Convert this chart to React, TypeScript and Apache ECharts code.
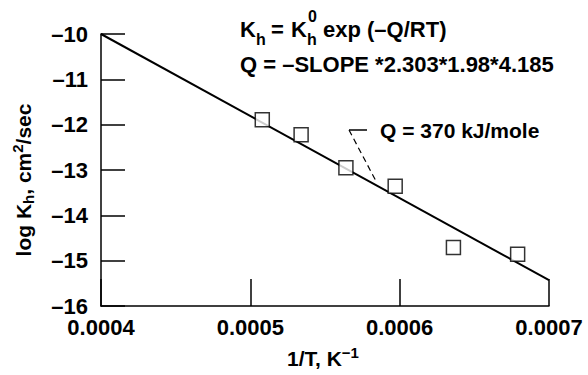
import React, { useEffect, useRef } from "react";
import * as echarts from "echarts";

// Data
const invT = [0.000508, 0.000534, 0.000564, 0.000597, 0.000636, 0.000679];
const logKh = [-11.89, -12.22, -12.95, -13.36, -14.71, -14.86];
const fitX = [0.0004, 0.0007];
const fitY = [-10.0, -15.43];
const xTicks = [0.0004, 0.0005, 0.0006, 0.0007];
const yTicks = [-16, -15, -14, -13, -12, -11, -10];

const FONT = "'Liberation Sans', Arial, Helvetica, sans-serif";

export default function App() {
  const ref = useRef<HTMLDivElement>(null);
  useEffect(() => {
    if (!ref.current) return;
    const chart = echarts.init(ref.current, null, { renderer: "svg" });
    const txt = (x: number, y: number, text: string, size: number, extra: any = {}) => ({
      type: "text",
      x,
      y,
      style: {
        text,
        fontFamily: FONT,
        fontWeight: "bold",
        fontSize: size,
        fill: "#000",
        textVerticalAlign: "bottom",
        ...extra,
      },
    });
    chart.setOption({
      animation: false,
      backgroundColor: "#fff",
      grid: { left: 101, right: 39, top: 34, bottom: 69 },
      xAxis: {
        type: "value",
        min: xTicks[0],
        max: xTicks[xTicks.length - 1],
        interval: 0.0001,
        axisLine: { show: true, lineStyle: { color: "#000", width: 1.5 } },
        axisTick: { show: true, inside: true, length: 27, lineStyle: { color: "#000", width: 1.5 } },
        splitLine: { show: false },
        axisLabel: {
          color: "#000",
          fontFamily: FONT,
          fontWeight: "bold",
          fontSize: 22,
          margin: 10,
          formatter: (v: number) => v.toFixed(4),
        },
      },
      yAxis: {
        type: "value",
        min: yTicks[0],
        max: yTicks[yTicks.length - 1],
        interval: 1,
        axisLine: { show: true, lineStyle: { color: "#000", width: 1.5 } },
        axisTick: { show: true, inside: true, length: 24, lineStyle: { color: "#000", width: 1.5 } },
        splitLine: { show: false },
        axisLabel: {
          color: "#000",
          fontFamily: FONT,
          fontWeight: "bold",
          fontSize: 22,
          margin: 13,
          formatter: (v: number) => String(Math.round(v)).replace("-", "\u2013"),
        },
      },
      series: [
        {
          type: "line",
          data: fitX.map((x, i) => [x, fitY[i]]),
          symbol: "none",
          lineStyle: { color: "#000", width: 2 },
          z: 2,
        },
        {
          type: "scatter",
          data: invT.map((x, i) => [x, logKh[i]]),
          symbol: "rect",
          symbolSize: 14,
          itemStyle: { color: "#fff", borderColor: "#000", borderWidth: 1.5 },
          z: 3,
        },
      ],
      graphic: [
        // equation 1: K_h = K_h^0 exp (–Q/RT)
        txt(240, 40, "K", 22),
        txt(256, 47, "h", 16),
        txt(271, 40, "=", 22),
        txt(291, 40, "K", 22),
        txt(307, 47, "h", 16),
        txt(308, 24.5, "0", 16),
        txt(323, 40, "exp (\u2013Q/RT)", 22),
        // equation 2
        txt(240, 75, "Q = \u2013SLOPE *2.303*1.98*4.185", 22),
        // annotation
        txt(380, 141, "Q = 370 kJ/mole", 21),
        {
          type: "line",
          shape: { x1: 349, y1: 130, x2: 367, y2: 130 },
          style: { stroke: "#000", lineWidth: 1.5 },
        },
        {
          type: "line",
          shape: { x1: 349, y1: 130, x2: 377, y2: 183 },
          style: { stroke: "#000", lineWidth: 1.2, lineDash: [6, 4] },
        },
        // y axis name
        {
          type: "text",
          x: 23,
          y: 180,
          rotation: Math.PI / 2,
          style: {
            text: "{a|log K}{s|h}{a|, cm}{p|2}{a|/sec}",
            align: "center",
            verticalAlign: "middle",
            fill: "#000",
            rich: {
              a: { fontFamily: FONT, fontWeight: "bold", fontSize: 21, lineHeight: 26 },
              s: { fontFamily: FONT, fontWeight: "bold", fontSize: 15, lineHeight: 15, verticalAlign: "bottom" },
              p: { fontFamily: FONT, fontWeight: "bold", fontSize: 15, lineHeight: 15, verticalAlign: "top" },
            },
          },
        },
        // x axis name
        {
          type: "text",
          x: 323,
          y: 358,
          style: {
            text: "{a|1/T, K}{p|\u22121}",
            align: "center",
            verticalAlign: "middle",
            fill: "#000",
            rich: {
              a: { fontFamily: FONT, fontWeight: "bold", fontSize: 21, lineHeight: 26 },
              p: { fontFamily: FONT, fontWeight: "bold", fontSize: 15, lineHeight: 15, verticalAlign: "top" },
            },
          },
        },
      ],
    });
    return () => chart.dispose();
  }, []);
  return <div ref={ref} style={{ width: 588, height: 375, position: "absolute", left: 0, top: 0 }} />;
}
